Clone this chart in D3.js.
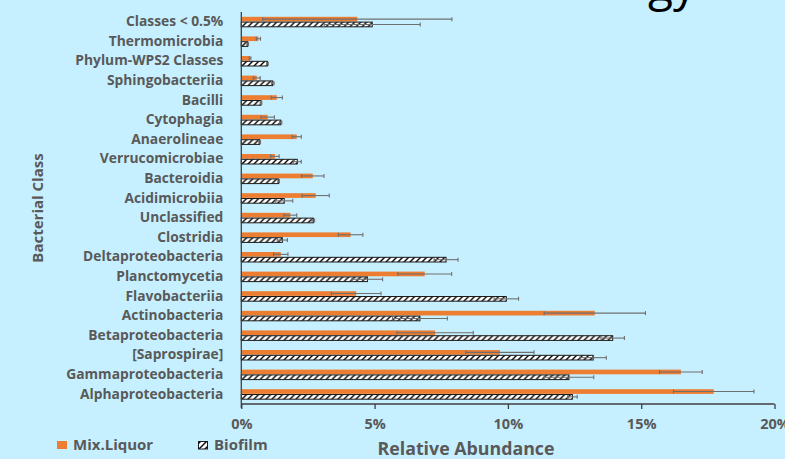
<!DOCTYPE html>
<html>
<head>
<meta charset="utf-8">
<script src="https://cdn.jsdelivr.net/npm/d3@7/dist/d3.min.js"></script>
<style>
  html, body { margin: 0; padding: 0; background: #C6F0FF; }
  svg { display: block; }
  text { font-family: "Open Sans", "Liberation Sans", sans-serif; }
</style>
</head>
<body>
<svg id="chart" width="785" height="459"></svg>
<script>
// Bacterial classes, top to bottom
const categories = [
  "Classes < 0.5%", "Thermomicrobia", "Phylum-WPS2 Classes", "Sphingobacteriia",
  "Bacilli", "Cytophagia", "Anaerolineae", "Verrucomicrobiae", "Bacteroidia",
  "Acidimicrobiia", "Unclassified", "Clostridia", "Deltaproteobacteria",
  "Planctomycetia", "Flavobacteriia", "Actinobacteria", "Betaproteobacteria",
  "[Saprospirae]", "Gammaproteobacteria", "Alphaproteobacteria"
];
// Relative abundance (%) and standard error, mixed liquor
const mixLiquor    = [4.35, 0.64, 0.33, 0.58, 1.33, 0.99, 2.08, 1.26, 2.68, 2.79, 1.84, 4.10, 1.48, 6.88, 4.31, 13.26, 7.27, 9.70, 16.49, 17.72];
const mixLiquorErr = [3.55, 0.08, 0.03, 0.13, 0.21, 0.25, 0.17, 0.16, 0.42, 0.51, 0.24, 0.46, 0.27, 1.01, 0.93, 1.90, 1.43, 1.28, 0.80, 1.51];
// Relative abundance (%) and standard error, biofilm
const biofilm      = [4.91, 0.24, 0.98, 1.18, 0.74, 1.48, 0.69, 2.10, 1.40, 1.61, 2.70, 1.54, 7.68, 4.73, 9.94, 6.70, 13.93, 13.20, 12.29, 12.42];
const biofilmErr   = [1.80, 0.03, 0.03, 0.05, 0.03, 0.04, 0.03, 0.15, 0.03, 0.32, 0.05, 0.19, 0.45, 0.57, 0.46, 1.03, 0.44, 0.49, 0.93, 0.18];
const seriesNames  = ["Mix.Liquor", "Biofilm"];
const xTicks       = [0, 5, 10, 15, 20];

const svg = d3.select("#chart");
const W = 785, H = 459;
const orange = "#ED7D31";
const textGray = "#595959";

svg.append("rect").attr("width", W).attr("height", H).attr("fill", "#C6F0FF");

// Hatch pattern for the biofilm bars
const defs = svg.append("defs");
const pat = defs.append("pattern")
  .attr("id", "hatch").attr("patternUnits", "userSpaceOnUse")
  .attr("width", 6).attr("height", 6);
pat.append("rect").attr("width", 6).attr("height", 6).attr("fill", "#fff");
pat.append("path").attr("d", "M-1,7 L7,-1 M-4,4 L4,-4 M2,10 L10,2")
  .attr("stroke", "#111").attr("stroke-width", 1.5);

const plotLeft = 241.3, plotRight = 774.5, plotTop = 12, plotBottom = 404;

const x = d3.scaleLinear().domain([0, 20]).range([plotLeft, plotRight]);
const y = d3.scaleBand().domain(categories).range([plotTop, plotBottom])
  .paddingInner(0.49).paddingOuter(0.245);
const ySub = d3.scaleBand().domain(seriesNames).range([0, y.bandwidth()]).paddingInner(0.12);

const rows = categories.map((c, i) => ({
  cat: c,
  vals: [
    { s: "Mix.Liquor", v: mixLiquor[i], e: mixLiquorErr[i] },
    { s: "Biofilm", v: biofilm[i], e: biofilmErr[i] }
  ]
}));

const g = svg.append("g");
const rowG = g.selectAll("g.row").data(rows).join("g")
  .attr("class", "row")
  .attr("transform", d => `translate(0,${y(d.cat)})`);

// Bars
rowG.selectAll("rect.bar").data(d => d.vals).join("rect")
  .attr("class", "bar")
  .attr("x", x(0))
  .attr("y", d => ySub(d.s))
  .attr("width", d => x(d.v) - x(0))
  .attr("height", ySub.bandwidth())
  .attr("fill", d => d.s === "Mix.Liquor" ? orange : "url(#hatch)")
  .attr("stroke", d => d.s === "Mix.Liquor" ? "none" : "#1a1a1a")
  .attr("stroke-width", 1);

// Error bars
const eb = rowG.selectAll("g.err").data(d => d.vals).join("g").attr("class", "err")
  .attr("transform", d => `translate(0,${ySub(d.s) + ySub.bandwidth() / 2})`)
  .attr("stroke", "#6f6f6f").attr("stroke-width", 1.1);
eb.append("line").attr("x1", d => x(d.v - d.e)).attr("x2", d => x(d.v + d.e)).attr("y1", 0).attr("y2", 0);
eb.append("line").attr("x1", d => x(d.v - d.e)).attr("x2", d => x(d.v - d.e)).attr("y1", -2).attr("y2", 2);
eb.append("line").attr("x1", d => x(d.v + d.e)).attr("x2", d => x(d.v + d.e)).attr("y1", -2).attr("y2", 2);

// X axis
const xAxis = svg.append("g").attr("transform", `translate(0,${plotBottom})`)
  .call(d3.axisBottom(x).tickValues(xTicks).tickFormat(d => d + "%").tickSize(5).tickPadding(10));
xAxis.select(".domain").attr("stroke", "#404040").attr("stroke-width", 1.3).attr("d", `M${plotLeft},0H${plotRight}`);
xAxis.selectAll(".tick line").attr("stroke", "#404040").attr("stroke-width", 1.3);
xAxis.selectAll(".tick text").attr("fill", textGray).attr("font-size", 14.5).attr("font-weight", 700)
  .style("font-family", "'Open Sans', sans-serif");

// Y axis
const yAxis = svg.append("g").attr("transform", `translate(${plotLeft},0)`)
  .call(d3.axisLeft(y).tickSize(0).tickPadding(18));
yAxis.select(".domain").attr("stroke", "#404040").attr("stroke-width", 1.3).attr("d", `M0,${plotTop}V${plotBottom + 4}`);
yAxis.selectAll(".tick text").attr("fill", textGray).attr("font-size", 13.8).attr("font-weight", 700)
  .style("font-family", "'Open Sans', sans-serif");

// Axis titles
svg.append("text").attr("x", 466).attr("y", 455).attr("text-anchor", "middle")
  .attr("fill", textGray).attr("font-size", 17.8).attr("font-weight", 700).text("Relative Abundance");
svg.append("text").attr("transform", "translate(43,208) rotate(-90)").attr("text-anchor", "middle")
  .attr("fill", textGray).attr("font-size", 15).attr("font-weight", 700).text("Bacterial Class");

// Legend
const leg = svg.append("g").attr("transform", "translate(57,441)");
leg.append("rect").attr("width", 10).attr("height", 8).attr("fill", orange);
leg.append("text").attr("x", 16).attr("y", 8.5).attr("fill", textGray).attr("font-size", 15).attr("font-weight", 700).text("Mix.Liquor");
leg.append("rect").attr("x", 141.5).attr("y", 0.5).attr("width", 9).attr("height", 7.5).attr("fill", "url(#hatch)").attr("stroke", "#1a1a1a").attr("stroke-width", 1);
leg.append("text").attr("x", 157).attr("y", 8.5).attr("fill", textGray).attr("font-size", 15).attr("font-weight", 700).text("Biofilm");

// Tail of the slide heading above the chart
svg.append("text").attr("x", 648).attr("y", 1).attr("fill", "#000").attr("font-size", 46).text("gy");
</script>
</body>
</html>
